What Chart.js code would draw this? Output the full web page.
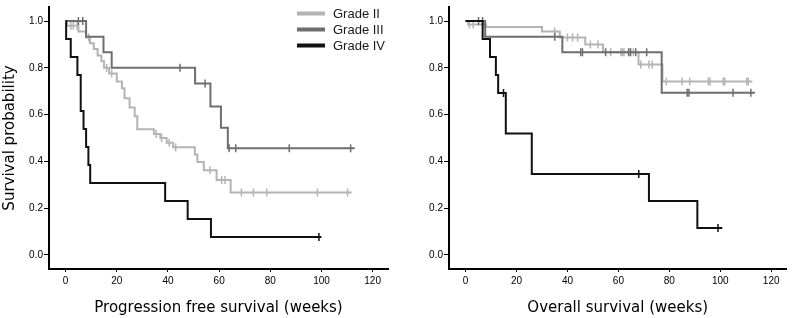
<!DOCTYPE html>
<html>
<head>
<meta charset="utf-8">
<script src="https://cdn.jsdelivr.net/npm/chart.js@4.4.1/dist/chart.umd.min.js"></script>
<style>
  body { margin: 0; background: #fff; }
  canvas { position: absolute; top: 0; }
</style>
</head>
<body>
<canvas id="pfsChart" width="400" height="318" style="left:0"></canvas>
<canvas id="osChart" width="392" height="318" style="left:400px"></canvas>
<script>
const gradeNames = ['Grade II', 'Grade III', 'Grade IV'];
const gradeColors = ['#b4b4b4', '#6e6e6e', '#111111'];
const xTicks = [0, 20, 40, 60, 80, 100, 120];
const yTicks = [0, 0.2, 0.4, 0.6, 0.8, 1.0];

// progression free survival (weeks)
const pfsG2Time = [0, 0.5, 5, 8, 9.5, 11, 12.5, 14, 15, 17, 20, 22, 23, 25, 27, 28, 34.5, 37, 39.5, 42, 50.5, 51.5, 54, 59, 64.5, 111.8];
const pfsG2Surv = [1.0, 0.98, 0.955, 0.93, 0.905, 0.88, 0.853, 0.828, 0.80, 0.776, 0.742, 0.713, 0.67, 0.63, 0.593, 0.537, 0.517, 0.50, 0.48, 0.46, 0.43, 0.397, 0.362, 0.32, 0.267, 0.267];
const pfsG2Cens = [2, 3, 4.5, 9, 16, 18, 35.4, 37.5, 40.5, 43, 56.4, 61, 62.3, 68.7, 73.4, 78.6, 98.4, 110.2];

const pfsG3Time = [0, 8, 14.8, 18, 50.6, 56.6, 60.7, 63.4, 113];
const pfsG3Surv = [1.0, 0.933, 0.867, 0.80, 0.733, 0.635, 0.544, 0.456, 0.456];
const pfsG3Cens = [5, 6.7, 44.7, 54.5, 63.9, 66.5, 87.4, 111.4];

const pfsG4Time = [0, 0.2, 2, 4.6, 5.9, 7.0, 8.0, 8.9, 9.6, 38.9, 47.7, 56.8, 100];
const pfsG4Surv = [1.0, 0.923, 0.846, 0.769, 0.615, 0.538, 0.462, 0.385, 0.308, 0.231, 0.154, 0.077, 0.077];
const pfsG4Cens = [99];

// overall survival (weeks)
const osG2Time = [0, 1, 8, 30, 37, 47, 54, 67.9, 77.3, 112.6];
const osG2Surv = [1.0, 0.985, 0.975, 0.955, 0.93, 0.90, 0.867, 0.814, 0.741, 0.741];
const osG2Cens = [1.5, 3, 7.5, 35, 40, 42, 44, 49, 52, 57, 61, 61.6, 62.2, 64.6, 65.9, 68.8, 72, 73.3, 78.8, 85, 88, 95.3, 96, 101.2, 101.8, 110.4, 111];

const osG3Time = [0, 7.7, 38, 77, 113.6];
const osG3Surv = [1.0, 0.933, 0.867, 0.693, 0.693];
const osG3Cens = [5.1, 6.7, 35, 45.2, 45.9, 55, 64, 64.8, 66.8, 71.1, 87, 87.7, 105, 112];

const osG4Time = [0, 6.7, 9.6, 11.9, 12.8, 15.8, 26, 72, 91, 100.8];
const osG4Surv = [1.0, 0.923, 0.846, 0.769, 0.692, 0.519, 0.346, 0.231, 0.115, 0.115];
const osG4Cens = [14.9, 68, 99.1];

function survAt(times, surv, t) {
  let s = surv[0];
  for (let i = 0; i < times.length; i++) {
    if (times[i] <= t) s = surv[i];
  }
  return s;
}

function buildDatasets(curves) {
  const sets = [];
  curves.forEach((c, i) => {
    sets.push({
      label: gradeNames[i],
      data: c.time.map((t, k) => ({ x: t, y: c.surv[k] })),
      borderColor: gradeColors[i],
      borderWidth: 2,
      stepped: 'before',
      pointRadius: 0,
      fill: false,
      order: 2 - i
    });
    sets.push({
      label: gradeNames[i] + ' censored',
      data: c.cens.map(t => ({ x: t, y: survAt(c.time, c.surv, t) })),
      showLine: false,
      pointStyle: 'line',
      rotation: 90,
      pointRadius: 4,
      pointBorderWidth: 1.5,
      pointBorderColor: gradeColors[i],
      borderColor: gradeColors[i],
      order: 2 - i
    });
  });
  return sets;
}

const legendPlugin = {
  id: 'gradeLegend',
  afterDraw(chart) {
    const ctx = chart.ctx;
    ctx.save();
    ctx.font = '13px "Liberation Sans", Arial, sans-serif';
    ctx.textBaseline = 'middle';
    gradeNames.forEach((name, i) => {
      const y = 13.5 + i * 16;
      ctx.fillStyle = gradeColors[i];
      ctx.fillRect(297, y - 2, 28, 4);
      ctx.fillStyle = '#1a1a1a';
      ctx.fillText(name, 333, y + 0.5);
    });
    ctx.restore();
  }
};

function makeOptions(xTitle, yTitle, rightPad) {
  return {
    responsive: false,
    animation: false,
    layout: { padding: { left: 0, right: rightPad, top: 3, bottom: 0 } },
    plugins: { legend: { display: false }, tooltip: { enabled: false } },
    scales: {
      x: {
        type: 'linear',
        min: -6.5,
        max: 126,
        afterBuildTicks: s => { s.ticks = xTicks.map(v => ({ value: v })); },
        afterFit: s => { s.height = 49; },
        grid: { display: true, drawOnChartArea: false, drawTicks: true, tickLength: 3, color: '#000', lineWidth: 1 },
        border: { display: true, color: '#000', width: 2 },
        ticks: {
          color: '#000',
          padding: 3,
          maxRotation: 0,
          font: { family: '"Liberation Sans", Arial, sans-serif', size: 10 }
        },
        title: {
          display: true,
          text: xTitle,
          color: '#000',
          font: { family: '"DejaVu Sans", sans-serif', size: 15 },
          padding: { top: 0, bottom: 1 }
        }
      },
      y: {
        type: 'linear',
        min: -0.06,
        max: 1.06,
        afterBuildTicks: s => { s.ticks = yTicks.map(v => ({ value: v })); },
        afterFit: s => { s.width = 49; },
        grid: { display: true, drawOnChartArea: false, drawTicks: true, tickLength: 5, color: '#000', lineWidth: 1 },
        border: { display: true, color: '#000', width: 2 },
        ticks: {
          color: '#000',
          padding: 1,
          callback: v => v.toFixed(1),
          font: { family: '"Liberation Sans", Arial, sans-serif', size: 10 }
        },
        title: {
          display: yTitle !== '',
          text: yTitle,
          color: '#000',
          font: { family: '"DejaVu Sans", sans-serif', size: 15 },
          padding: { top: 1, bottom: 0 }
        }
      }
    }
  };
}

window.onload = () => {
  const pfsCurves = [
    { time: pfsG2Time, surv: pfsG2Surv, cens: pfsG2Cens },
    { time: pfsG3Time, surv: pfsG3Surv, cens: pfsG3Cens },
    { time: pfsG4Time, surv: pfsG4Surv, cens: pfsG4Cens }
  ];
  const osCurves = [
    { time: osG2Time, surv: osG2Surv, cens: osG2Cens },
    { time: osG3Time, surv: osG3Surv, cens: osG3Cens },
    { time: osG4Time, surv: osG4Surv, cens: osG4Cens }
  ];

  new Chart(document.getElementById('pfsChart'), {
    type: 'line',
    data: { datasets: buildDatasets(pfsCurves) },
    options: makeOptions('Progression free survival (weeks)', 'Survival probability', 12),
    plugins: [legendPlugin]
  });

  new Chart(document.getElementById('osChart'), {
    type: 'line',
    data: { datasets: buildDatasets(osCurves) },
    options: makeOptions('Overall survival (weeks)', '', 3)
  });
};
</script>
</body>
</html>
